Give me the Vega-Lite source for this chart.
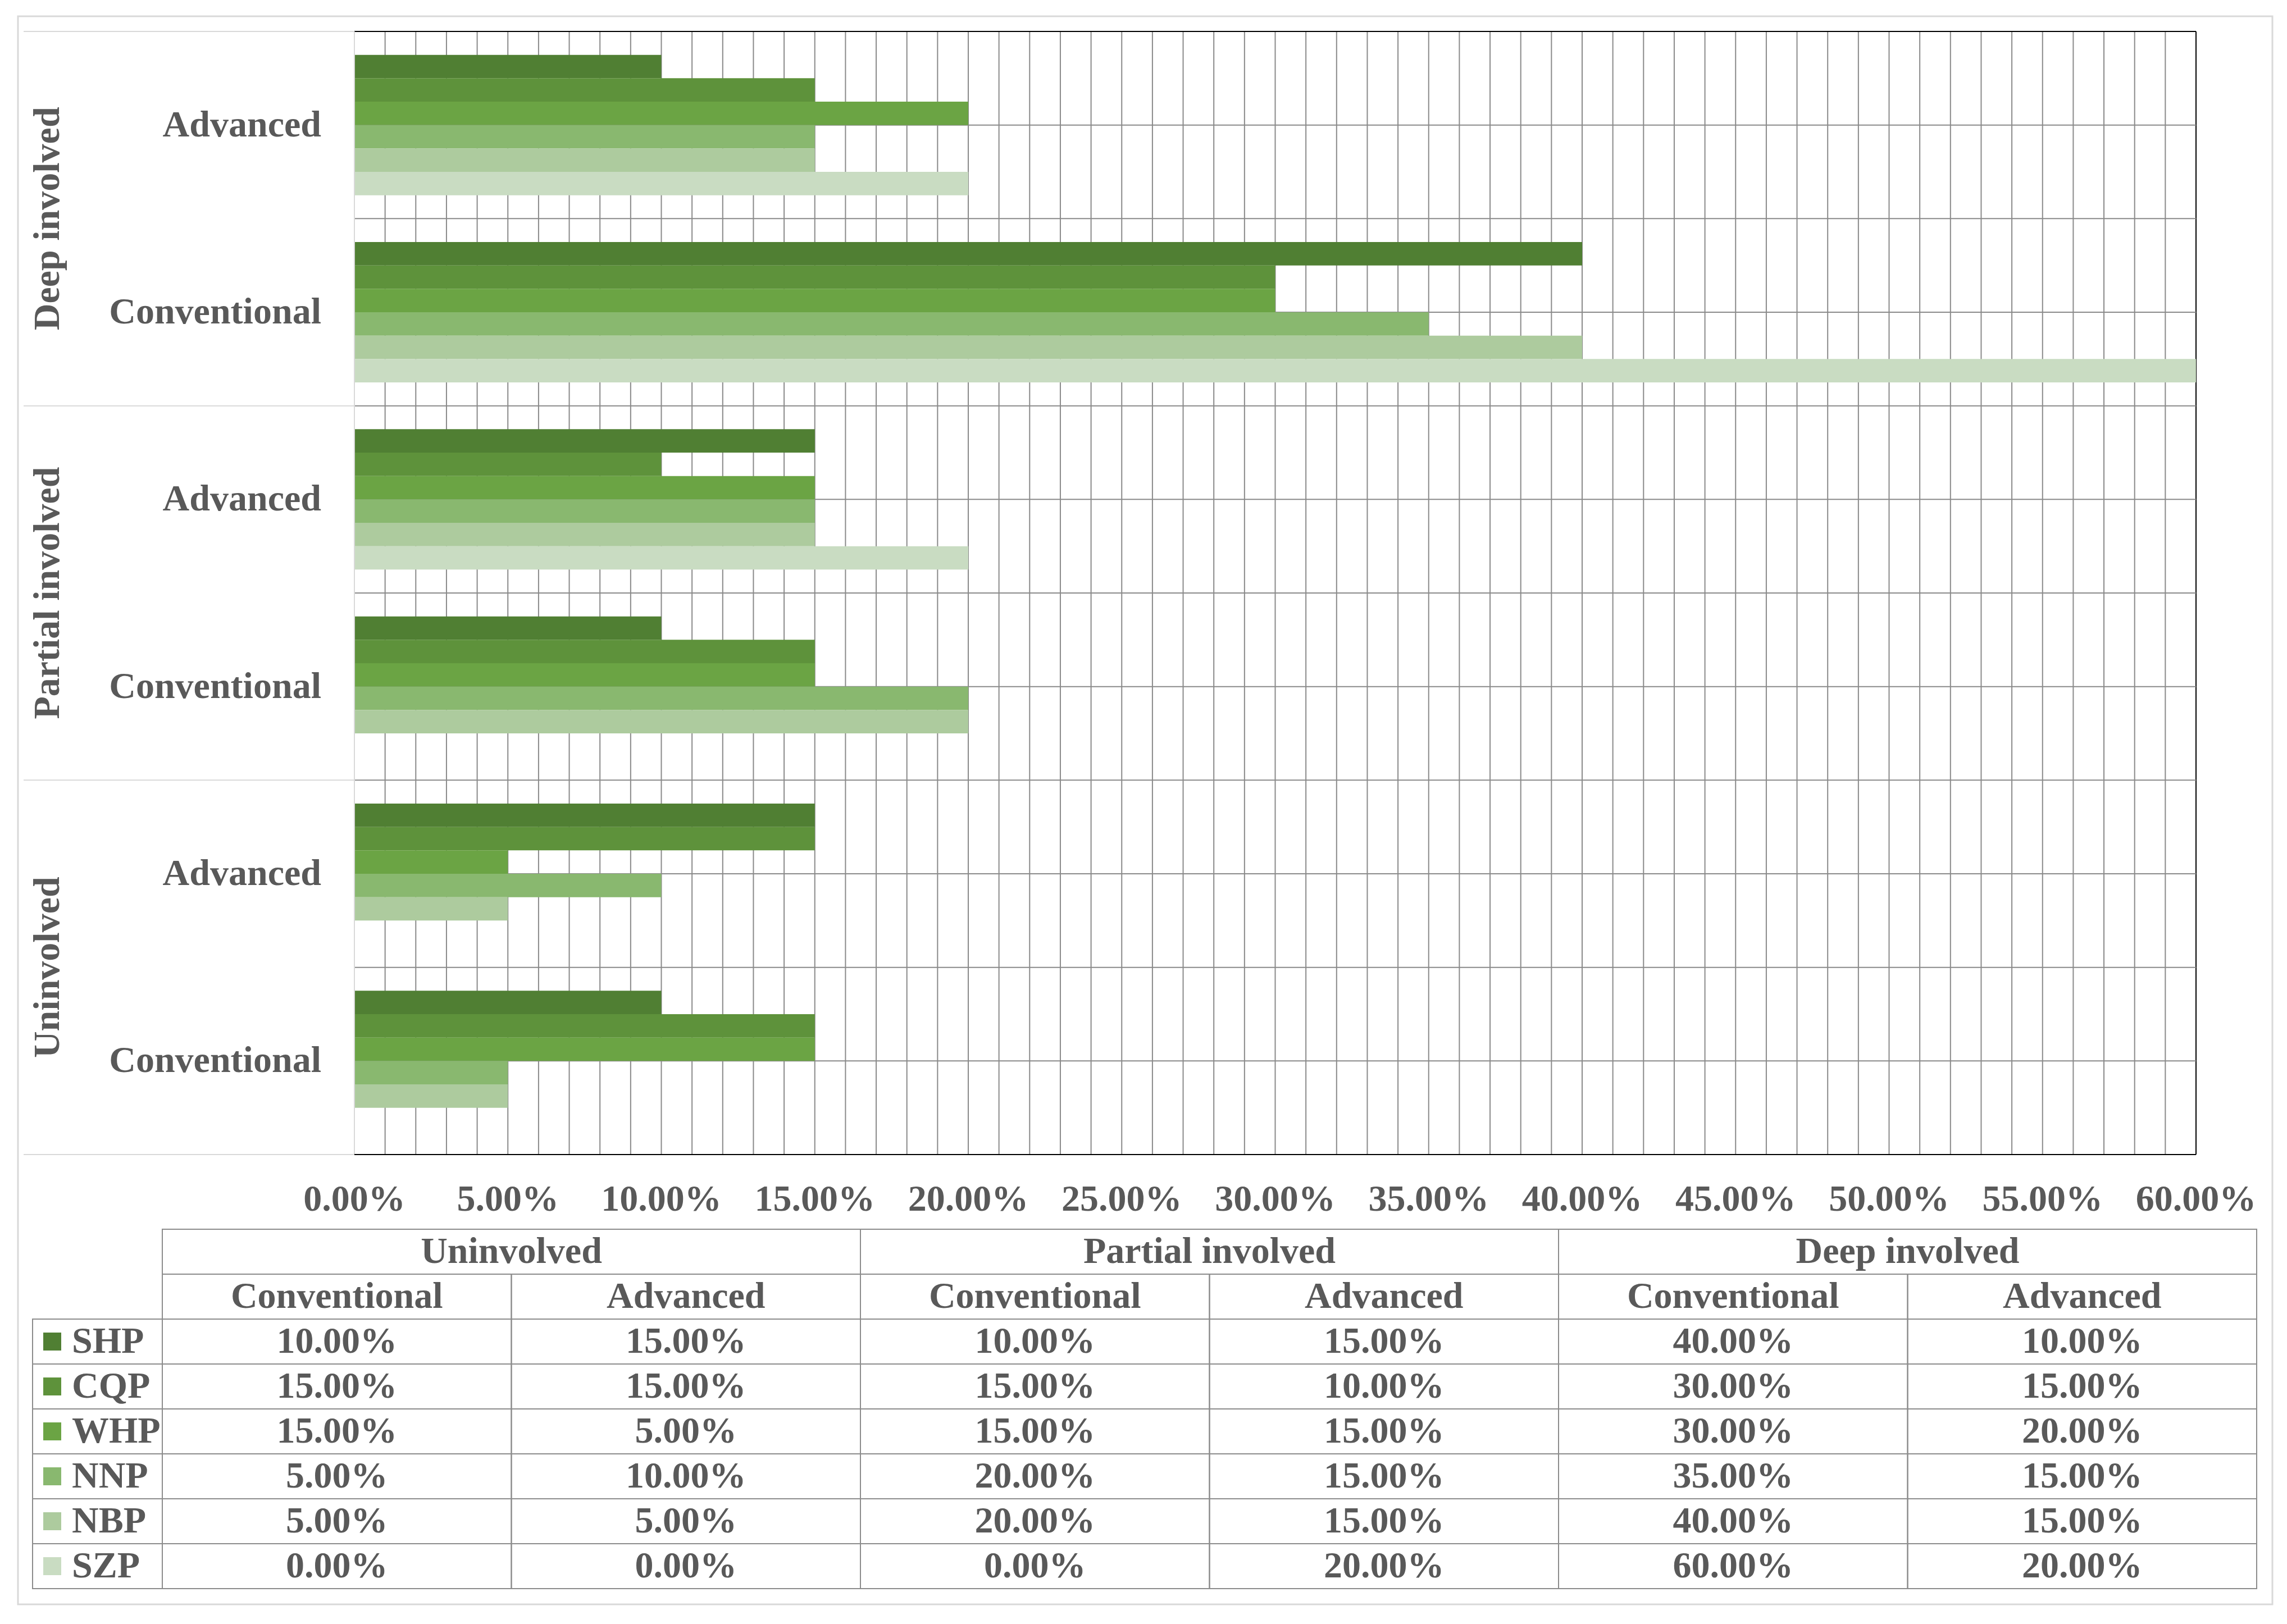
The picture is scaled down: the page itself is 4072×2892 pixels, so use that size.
{
  "$schema": "https://vega.github.io/schema/vega-lite/v6.json",
  "autosize": {"type": "fit", "contains": "padding"},
  "width": 4072,
  "height": 2892,
  "padding": 0,
  "background": "#ffffff",
  "config": {"font": "Liberation Serif", "view": {"stroke": null}},
  "datasets": {
    "bars": [
      {"group": "Uninvolved", "level": "Conventional", "cat": "Uninvolved|Conventional", "key": "Uninvolved|Conventional|SHP", "series": "SHP", "value": 0.10},
      {"group": "Uninvolved", "level": "Conventional", "cat": "Uninvolved|Conventional", "key": "Uninvolved|Conventional|CQP", "series": "CQP", "value": 0.15},
      {"group": "Uninvolved", "level": "Conventional", "cat": "Uninvolved|Conventional", "key": "Uninvolved|Conventional|WHP", "series": "WHP", "value": 0.15},
      {"group": "Uninvolved", "level": "Conventional", "cat": "Uninvolved|Conventional", "key": "Uninvolved|Conventional|NNP", "series": "NNP", "value": 0.05},
      {"group": "Uninvolved", "level": "Conventional", "cat": "Uninvolved|Conventional", "key": "Uninvolved|Conventional|NBP", "series": "NBP", "value": 0.05},
      {"group": "Uninvolved", "level": "Conventional", "cat": "Uninvolved|Conventional", "key": "Uninvolved|Conventional|SZP", "series": "SZP", "value": 0.00},
      {"group": "Uninvolved", "level": "Advanced", "cat": "Uninvolved|Advanced", "key": "Uninvolved|Advanced|SHP", "series": "SHP", "value": 0.15},
      {"group": "Uninvolved", "level": "Advanced", "cat": "Uninvolved|Advanced", "key": "Uninvolved|Advanced|CQP", "series": "CQP", "value": 0.15},
      {"group": "Uninvolved", "level": "Advanced", "cat": "Uninvolved|Advanced", "key": "Uninvolved|Advanced|WHP", "series": "WHP", "value": 0.05},
      {"group": "Uninvolved", "level": "Advanced", "cat": "Uninvolved|Advanced", "key": "Uninvolved|Advanced|NNP", "series": "NNP", "value": 0.10},
      {"group": "Uninvolved", "level": "Advanced", "cat": "Uninvolved|Advanced", "key": "Uninvolved|Advanced|NBP", "series": "NBP", "value": 0.05},
      {"group": "Uninvolved", "level": "Advanced", "cat": "Uninvolved|Advanced", "key": "Uninvolved|Advanced|SZP", "series": "SZP", "value": 0.00},
      {"group": "Partial involved", "level": "Conventional", "cat": "Partial involved|Conventional", "key": "Partial involved|Conventional|SHP", "series": "SHP", "value": 0.10},
      {"group": "Partial involved", "level": "Conventional", "cat": "Partial involved|Conventional", "key": "Partial involved|Conventional|CQP", "series": "CQP", "value": 0.15},
      {"group": "Partial involved", "level": "Conventional", "cat": "Partial involved|Conventional", "key": "Partial involved|Conventional|WHP", "series": "WHP", "value": 0.15},
      {"group": "Partial involved", "level": "Conventional", "cat": "Partial involved|Conventional", "key": "Partial involved|Conventional|NNP", "series": "NNP", "value": 0.20},
      {"group": "Partial involved", "level": "Conventional", "cat": "Partial involved|Conventional", "key": "Partial involved|Conventional|NBP", "series": "NBP", "value": 0.20},
      {"group": "Partial involved", "level": "Conventional", "cat": "Partial involved|Conventional", "key": "Partial involved|Conventional|SZP", "series": "SZP", "value": 0.00},
      {"group": "Partial involved", "level": "Advanced", "cat": "Partial involved|Advanced", "key": "Partial involved|Advanced|SHP", "series": "SHP", "value": 0.15},
      {"group": "Partial involved", "level": "Advanced", "cat": "Partial involved|Advanced", "key": "Partial involved|Advanced|CQP", "series": "CQP", "value": 0.10},
      {"group": "Partial involved", "level": "Advanced", "cat": "Partial involved|Advanced", "key": "Partial involved|Advanced|WHP", "series": "WHP", "value": 0.15},
      {"group": "Partial involved", "level": "Advanced", "cat": "Partial involved|Advanced", "key": "Partial involved|Advanced|NNP", "series": "NNP", "value": 0.15},
      {"group": "Partial involved", "level": "Advanced", "cat": "Partial involved|Advanced", "key": "Partial involved|Advanced|NBP", "series": "NBP", "value": 0.15},
      {"group": "Partial involved", "level": "Advanced", "cat": "Partial involved|Advanced", "key": "Partial involved|Advanced|SZP", "series": "SZP", "value": 0.20},
      {"group": "Deep involved", "level": "Conventional", "cat": "Deep involved|Conventional", "key": "Deep involved|Conventional|SHP", "series": "SHP", "value": 0.40},
      {"group": "Deep involved", "level": "Conventional", "cat": "Deep involved|Conventional", "key": "Deep involved|Conventional|CQP", "series": "CQP", "value": 0.30},
      {"group": "Deep involved", "level": "Conventional", "cat": "Deep involved|Conventional", "key": "Deep involved|Conventional|WHP", "series": "WHP", "value": 0.30},
      {"group": "Deep involved", "level": "Conventional", "cat": "Deep involved|Conventional", "key": "Deep involved|Conventional|NNP", "series": "NNP", "value": 0.35},
      {"group": "Deep involved", "level": "Conventional", "cat": "Deep involved|Conventional", "key": "Deep involved|Conventional|NBP", "series": "NBP", "value": 0.40},
      {"group": "Deep involved", "level": "Conventional", "cat": "Deep involved|Conventional", "key": "Deep involved|Conventional|SZP", "series": "SZP", "value": 0.60},
      {"group": "Deep involved", "level": "Advanced", "cat": "Deep involved|Advanced", "key": "Deep involved|Advanced|SHP", "series": "SHP", "value": 0.10},
      {"group": "Deep involved", "level": "Advanced", "cat": "Deep involved|Advanced", "key": "Deep involved|Advanced|CQP", "series": "CQP", "value": 0.15},
      {"group": "Deep involved", "level": "Advanced", "cat": "Deep involved|Advanced", "key": "Deep involved|Advanced|WHP", "series": "WHP", "value": 0.20},
      {"group": "Deep involved", "level": "Advanced", "cat": "Deep involved|Advanced", "key": "Deep involved|Advanced|NNP", "series": "NNP", "value": 0.15},
      {"group": "Deep involved", "level": "Advanced", "cat": "Deep involved|Advanced", "key": "Deep involved|Advanced|NBP", "series": "NBP", "value": 0.15},
      {"group": "Deep involved", "level": "Advanced", "cat": "Deep involved|Advanced", "key": "Deep involved|Advanced|SZP", "series": "SZP", "value": 0.20}
    ],
    "cats": [
      {"cat": "Uninvolved|Conventional", "group": "Uninvolved", "level": "Conventional"},
      {"cat": "Uninvolved|Advanced", "group": "Uninvolved", "level": "Advanced"},
      {"cat": "Partial involved|Conventional", "group": "Partial involved", "level": "Conventional"},
      {"cat": "Partial involved|Advanced", "group": "Partial involved", "level": "Advanced"},
      {"cat": "Deep involved|Conventional", "group": "Deep involved", "level": "Conventional"},
      {"cat": "Deep involved|Advanced", "group": "Deep involved", "level": "Advanced"}
    ],
    "grid": [
      {"g": 0}, {"g": 0.01}, {"g": 0.02}, {"g": 0.03}, {"g": 0.04}, {"g": 0.05}, {"g": 0.06}, {"g": 0.07}, {"g": 0.08}, {"g": 0.09},
      {"g": 0.1}, {"g": 0.11}, {"g": 0.12}, {"g": 0.13}, {"g": 0.14}, {"g": 0.15}, {"g": 0.16}, {"g": 0.17}, {"g": 0.18}, {"g": 0.19},
      {"g": 0.2}, {"g": 0.21}, {"g": 0.22}, {"g": 0.23}, {"g": 0.24}, {"g": 0.25}, {"g": 0.26}, {"g": 0.27}, {"g": 0.28}, {"g": 0.29},
      {"g": 0.3}, {"g": 0.31}, {"g": 0.32}, {"g": 0.33}, {"g": 0.34}, {"g": 0.35}, {"g": 0.36}, {"g": 0.37}, {"g": 0.38}, {"g": 0.39},
      {"g": 0.4}, {"g": 0.41}, {"g": 0.42}, {"g": 0.43}, {"g": 0.44}, {"g": 0.45}, {"g": 0.46}, {"g": 0.47}, {"g": 0.48}, {"g": 0.49},
      {"g": 0.5}, {"g": 0.51}, {"g": 0.52}, {"g": 0.53}, {"g": 0.54}, {"g": 0.55}, {"g": 0.56}, {"g": 0.57}, {"g": 0.58}, {"g": 0.59},
      {"g": 0.6}
    ]
  },
  "resolve": {"scale": {"x": "independent", "y": "independent"}},
  "layer": [
    {
      "data": {"values": [{"f": "f"}]},
      "mark": {"type": "rect", "filled": false, "stroke": "#d9d9d9", "strokeWidth": 3},
      "encoding": {
        "x": {"field": "f", "type": "nominal", "scale": {"domain": ["f"], "range": [32, 4046], "paddingInner": 0, "paddingOuter": 0}, "axis": null},
        "y": {"field": "f", "type": "nominal", "scale": {"domain": ["f"], "range": [29, 2857], "paddingInner": 0, "paddingOuter": 0}, "axis": null}
      }
    },
    {
      "data": {"name": "grid"},
      "mark": {"type": "rule", "strokeWidth": 2},
      "encoding": {
        "x": {"field": "g", "type": "quantitative", "scale": {"domain": [0, 0.6], "range": [631, 3910], "nice": false, "zero": false}, "axis": null},
        "y": {"datum": 0, "type": "quantitative", "scale": {"domain": [0, 1], "range": [56, 2056], "nice": false, "zero": false}, "axis": null},
        "y2": {"datum": 1},
        "color": {"condition": {"test": "datum.g >= 0.6", "value": "#000000"}, "value": "#8a8a8a"}
      }
    },
    {
      "data": {"name": "cats"},
      "mark": {"type": "rule", "strokeWidth": 2},
      "encoding": {
        "y": {"field": "cat", "type": "nominal", "bandPosition": 0, "scale": {"domain": ["Deep involved|Advanced", "Deep involved|Conventional", "Partial involved|Advanced", "Partial involved|Conventional", "Uninvolved|Advanced", "Uninvolved|Conventional"], "range": [56, 2056], "paddingInner": 0, "paddingOuter": 0}, "axis": null},
        "x": {"datum": 0, "type": "quantitative", "scale": {"domain": [0, 0.6], "range": [631, 3910], "nice": false, "zero": false}, "axis": null},
        "x2": {"datum": 0.6},
        "color": {"condition": {"test": "datum.cat === 'Deep involved|Advanced'", "value": "#000000"}, "value": "#8a8a8a"}
      }
    },
    {
      "data": {"name": "cats"},
      "mark": {"type": "rule", "strokeWidth": 2, "color": "#8a8a8a"},
      "encoding": {
        "y": {"field": "cat", "type": "nominal", "scale": {"domain": ["Deep involved|Advanced", "Deep involved|Conventional", "Partial involved|Advanced", "Partial involved|Conventional", "Uninvolved|Advanced", "Uninvolved|Conventional"], "range": [56, 2056], "paddingInner": 0, "paddingOuter": 0}, "axis": null},
        "x": {"datum": 0, "type": "quantitative", "scale": {"domain": [0, 0.6], "range": [631, 3910], "nice": false, "zero": false}, "axis": null},
        "x2": {"datum": 0.6}
      }
    },
    {
      "data": {"name": "bars"},
      "mark": {"type": "bar"},
      "encoding": {
        "y": {
          "field": "key", "type": "nominal",
          "scale": {"domain": [
            "Deep involved|Advanced|t", "Deep involved|Advanced|SHP", "Deep involved|Advanced|CQP", "Deep involved|Advanced|WHP", "Deep involved|Advanced|NNP", "Deep involved|Advanced|NBP", "Deep involved|Advanced|SZP", "Deep involved|Advanced|b",
            "Deep involved|Conventional|t", "Deep involved|Conventional|SHP", "Deep involved|Conventional|CQP", "Deep involved|Conventional|WHP", "Deep involved|Conventional|NNP", "Deep involved|Conventional|NBP", "Deep involved|Conventional|SZP", "Deep involved|Conventional|b",
            "Partial involved|Advanced|t", "Partial involved|Advanced|SHP", "Partial involved|Advanced|CQP", "Partial involved|Advanced|WHP", "Partial involved|Advanced|NNP", "Partial involved|Advanced|NBP", "Partial involved|Advanced|SZP", "Partial involved|Advanced|b",
            "Partial involved|Conventional|t", "Partial involved|Conventional|SHP", "Partial involved|Conventional|CQP", "Partial involved|Conventional|WHP", "Partial involved|Conventional|NNP", "Partial involved|Conventional|NBP", "Partial involved|Conventional|SZP", "Partial involved|Conventional|b",
            "Uninvolved|Advanced|t", "Uninvolved|Advanced|SHP", "Uninvolved|Advanced|CQP", "Uninvolved|Advanced|WHP", "Uninvolved|Advanced|NNP", "Uninvolved|Advanced|NBP", "Uninvolved|Advanced|SZP", "Uninvolved|Advanced|b",
            "Uninvolved|Conventional|t", "Uninvolved|Conventional|SHP", "Uninvolved|Conventional|CQP", "Uninvolved|Conventional|WHP", "Uninvolved|Conventional|NNP", "Uninvolved|Conventional|NBP", "Uninvolved|Conventional|SZP", "Uninvolved|Conventional|b"
          ], "range": [56, 2056], "paddingInner": 0, "paddingOuter": 0},
          "axis": null
        },
        "x": {"field": "value", "type": "quantitative", "scale": {"domain": [0, 0.6], "range": [631, 3910], "nice": false, "zero": false}, "axis": null},
        "color": {
          "field": "series", "type": "nominal",
          "scale": {"domain": ["SHP", "CQP", "WHP", "NNP", "NBP", "SZP"], "range": ["#507f33", "#5e923b", "#6ba444", "#89b86f", "#adcb9e", "#c9dcc2"]},
          "legend": null
        }
      }
    },
    {
      "data": {"values": [{"f": "f"}]},
      "mark": {"type": "rule", "strokeWidth": 2, "color": "#d9d9d9"},
      "encoding": {
        "x": {"datum": 0, "type": "quantitative", "scale": {"domain": [0, 0.6], "range": [631, 3910], "nice": false, "zero": false}, "axis": null},
        "y": {"datum": 0, "type": "quantitative", "scale": {"domain": [0, 1], "range": [56, 2056], "nice": false, "zero": false}, "axis": null},
        "y2": {"datum": 1}
      }
    },
    {
      "data": {"values": [{"f": "f"}]},
      "mark": {"type": "rule", "strokeWidth": 2, "color": "#000000"},
      "encoding": {
        "x": {"datum": 0, "type": "quantitative", "scale": {"domain": [0, 0.6], "range": [631, 3910], "nice": false, "zero": false}, "axis": null},
        "x2": {"datum": 0.6},
        "y": {"datum": 1, "type": "quantitative", "scale": {"domain": [0, 1], "range": [56, 2056], "nice": false, "zero": false}, "axis": null}
      }
    },
    {
      "data": {"values": [{"f": "f"}]},
      "mark": {"type": "rule", "strokeWidth": 2, "color": "#d9d9d9"},
      "encoding": {
        "x": {"datum": -0.10778, "type": "quantitative", "scale": {"domain": [0, 0.6], "range": [631, 3910], "nice": false, "zero": false}, "axis": null},
        "x2": {"datum": 0},
        "y": {"datum": 1, "type": "quantitative", "scale": {"domain": [0, 1], "range": [56, 2056], "nice": false, "zero": false}, "axis": null}
      }
    },
    {
      "data": {"name": "cats"},
      "transform": [{"aggregate": [{"op": "count", "as": "n"}], "groupby": ["group"]}],
      "mark": {"type": "rule", "strokeWidth": 2, "color": "#d9d9d9"},
      "encoding": {
        "y": {"field": "group", "type": "nominal", "bandPosition": 0, "scale": {"domain": ["Deep involved", "Partial involved", "Uninvolved"], "range": [56, 2056], "paddingInner": 0, "paddingOuter": 0}, "axis": null},
        "x": {"datum": -0.10778, "type": "quantitative", "scale": {"domain": [0, 0.6], "range": [631, 3910], "nice": false, "zero": false}, "axis": null},
        "x2": {"datum": 0}
      }
    },
    {
      "data": {"name": "grid"},
      "transform": [{"filter": "round(datum.g * 100) % 5 === 0"}],
      "mark": {"type": "text", "font": "Liberation Serif", "fontSize": 66, "fontWeight": "bold", "color": "#595959", "align": "center", "baseline": "alphabetic", "dy": 100},
      "encoding": {
        "x": {"field": "g", "type": "quantitative", "scale": {"domain": [0, 0.6], "range": [631, 3910], "nice": false, "zero": false}, "axis": null},
        "y": {"datum": 1, "type": "quantitative", "scale": {"domain": [0, 1], "range": [56, 2056], "nice": false, "zero": false}, "axis": null},
        "text": {"field": "g", "type": "quantitative", "format": ".2%"}
      }
    },
    {
      "data": {"name": "cats"},
      "mark": {"type": "text", "font": "Liberation Serif", "fontSize": 66, "fontWeight": "bold", "color": "#595959", "align": "right", "baseline": "middle"},
      "encoding": {
        "y": {"field": "cat", "type": "nominal", "scale": {"domain": ["Deep involved|Advanced", "Deep involved|Conventional", "Partial involved|Advanced", "Partial involved|Conventional", "Uninvolved|Advanced", "Uninvolved|Conventional"], "range": [56, 2056], "paddingInner": 0, "paddingOuter": 0}, "axis": null},
        "x": {"datum": -0.0108, "type": "quantitative", "scale": {"domain": [0, 0.6], "range": [631, 3910], "nice": false, "zero": false}, "axis": null},
        "text": {"field": "level", "type": "nominal"}
      }
    },
    {
      "data": {"name": "cats"},
      "transform": [{"aggregate": [{"op": "count", "as": "n"}], "groupby": ["group"]}],
      "mark": {"type": "text", "font": "Liberation Serif", "fontSize": 66, "fontWeight": "bold", "color": "#595959", "align": "center", "baseline": "alphabetic", "angle": 270},
      "encoding": {
        "y": {"field": "group", "type": "nominal", "scale": {"domain": ["Deep involved", "Partial involved", "Uninvolved"], "range": [56, 2056], "paddingInner": 0, "paddingOuter": 0}, "axis": null},
        "x": {"datum": -0.09625, "type": "quantitative", "scale": {"domain": [0, 0.6], "range": [631, 3910], "nice": false, "zero": false}, "axis": null},
        "text": {"field": "group", "type": "nominal"}
      }
    },
    {
      "data": {"name": "bars"},
      "mark": {"type": "rect", "filled": false, "stroke": "#8c8c8c", "strokeWidth": 2},
      "encoding": {
        "x": {"field": "cat", "type": "nominal", "scale": {"domain": ["Uninvolved|Conventional", "Uninvolved|Advanced", "Partial involved|Conventional", "Partial involved|Advanced", "Deep involved|Conventional", "Deep involved|Advanced"], "range": [289, 4018], "paddingInner": 0, "paddingOuter": 0}, "axis": null},
        "y": {"field": "series", "type": "nominal", "scale": {"domain": ["grp", "lvl", "SHP", "CQP", "WHP", "NNP", "NBP", "SZP"], "range": [2189, 2829], "paddingInner": 0, "paddingOuter": 0}, "axis": null}
      }
    },
    {
      "data": {"name": "bars"},
      "mark": {"type": "text", "font": "Liberation Serif", "fontSize": 66, "fontWeight": "bold", "color": "#595959", "baseline": "middle", "align": "center"},
      "encoding": {
        "x": {"field": "cat", "type": "nominal", "scale": {"domain": ["Uninvolved|Conventional", "Uninvolved|Advanced", "Partial involved|Conventional", "Partial involved|Advanced", "Deep involved|Conventional", "Deep involved|Advanced"], "range": [289, 4018], "paddingInner": 0, "paddingOuter": 0}, "axis": null},
        "y": {"field": "series", "type": "nominal", "scale": {"domain": ["grp", "lvl", "SHP", "CQP", "WHP", "NNP", "NBP", "SZP"], "range": [2189, 2829], "paddingInner": 0, "paddingOuter": 0}, "axis": null},
        "text": {"field": "value", "type": "quantitative", "format": ".2%"}
      }
    },
    {
      "data": {"name": "cats"},
      "mark": {"type": "rect", "filled": false, "stroke": "#8c8c8c", "strokeWidth": 2},
      "encoding": {
        "x": {"field": "cat", "type": "nominal", "scale": {"domain": ["Uninvolved|Conventional", "Uninvolved|Advanced", "Partial involved|Conventional", "Partial involved|Advanced", "Deep involved|Conventional", "Deep involved|Advanced"], "range": [289, 4018], "paddingInner": 0, "paddingOuter": 0}, "axis": null},
        "y": {"datum": "lvl", "type": "nominal", "scale": {"domain": ["grp", "lvl", "SHP", "CQP", "WHP", "NNP", "NBP", "SZP"], "range": [2189, 2829], "paddingInner": 0, "paddingOuter": 0}, "axis": null}
      }
    },
    {
      "data": {"name": "cats"},
      "mark": {"type": "text", "font": "Liberation Serif", "fontSize": 66, "fontWeight": "bold", "color": "#595959", "baseline": "middle", "align": "center"},
      "encoding": {
        "x": {"field": "cat", "type": "nominal", "scale": {"domain": ["Uninvolved|Conventional", "Uninvolved|Advanced", "Partial involved|Conventional", "Partial involved|Advanced", "Deep involved|Conventional", "Deep involved|Advanced"], "range": [289, 4018], "paddingInner": 0, "paddingOuter": 0}, "axis": null},
        "y": {"datum": "lvl", "type": "nominal", "scale": {"domain": ["grp", "lvl", "SHP", "CQP", "WHP", "NNP", "NBP", "SZP"], "range": [2189, 2829], "paddingInner": 0, "paddingOuter": 0}, "axis": null},
        "text": {"field": "level", "type": "nominal"}
      }
    },
    {
      "data": {"name": "cats"},
      "transform": [{"aggregate": [{"op": "count", "as": "n"}], "groupby": ["group"]}],
      "mark": {"type": "rect", "filled": false, "stroke": "#8c8c8c", "strokeWidth": 2},
      "encoding": {
        "x": {"field": "group", "type": "nominal", "scale": {"domain": ["Uninvolved", "Partial involved", "Deep involved"], "range": [289, 4018], "paddingInner": 0, "paddingOuter": 0}, "axis": null},
        "y": {"datum": "grp", "type": "nominal", "scale": {"domain": ["grp", "lvl", "SHP", "CQP", "WHP", "NNP", "NBP", "SZP"], "range": [2189, 2829], "paddingInner": 0, "paddingOuter": 0}, "axis": null}
      }
    },
    {
      "data": {"name": "cats"},
      "transform": [{"aggregate": [{"op": "count", "as": "n"}], "groupby": ["group"]}],
      "mark": {"type": "text", "font": "Liberation Serif", "fontSize": 66, "fontWeight": "bold", "color": "#595959", "baseline": "middle", "align": "center"},
      "encoding": {
        "x": {"field": "group", "type": "nominal", "scale": {"domain": ["Uninvolved", "Partial involved", "Deep involved"], "range": [289, 4018], "paddingInner": 0, "paddingOuter": 0}, "axis": null},
        "y": {"datum": "grp", "type": "nominal", "scale": {"domain": ["grp", "lvl", "SHP", "CQP", "WHP", "NNP", "NBP", "SZP"], "range": [2189, 2829], "paddingInner": 0, "paddingOuter": 0}, "axis": null},
        "text": {"field": "group", "type": "nominal"}
      }
    },
    {
      "data": {"name": "bars"},
      "transform": [{"aggregate": [{"op": "count", "as": "n"}], "groupby": ["series"]}],
      "mark": {"type": "rect", "filled": false, "stroke": "#8c8c8c", "strokeWidth": 2},
      "encoding": {
        "x": {"datum": "k", "type": "nominal", "scale": {"domain": ["k"], "range": [58, 289], "paddingInner": 0, "paddingOuter": 0}, "axis": null},
        "y": {"field": "series", "type": "nominal", "scale": {"domain": ["grp", "lvl", "SHP", "CQP", "WHP", "NNP", "NBP", "SZP"], "range": [2189, 2829], "paddingInner": 0, "paddingOuter": 0}, "axis": null}
      }
    },
    {
      "data": {"name": "bars"},
      "transform": [{"aggregate": [{"op": "count", "as": "n"}], "groupby": ["series"]}],
      "mark": {"type": "square", "size": 1024, "filled": true, "opacity": 1},
      "encoding": {
        "x": {"datum": "k", "type": "nominal", "scale": {"domain": ["k"], "range": [77, 109], "paddingInner": 0, "paddingOuter": 0}, "axis": null},
        "y": {"field": "series", "type": "nominal", "scale": {"domain": ["grp", "lvl", "SHP", "CQP", "WHP", "NNP", "NBP", "SZP"], "range": [2189, 2829], "paddingInner": 0, "paddingOuter": 0}, "axis": null},
        "color": {
          "field": "series", "type": "nominal",
          "scale": {"domain": ["SHP", "CQP", "WHP", "NNP", "NBP", "SZP"], "range": ["#507f33", "#5e923b", "#6ba444", "#89b86f", "#adcb9e", "#c9dcc2"]},
          "legend": null
        }
      }
    },
    {
      "data": {"name": "bars"},
      "transform": [{"aggregate": [{"op": "count", "as": "n"}], "groupby": ["series"]}],
      "mark": {"type": "text", "font": "Liberation Serif", "fontSize": 66, "fontWeight": "bold", "color": "#595959", "baseline": "middle", "align": "left"},
      "encoding": {
        "x": {"datum": "k", "type": "nominal", "scale": {"domain": ["k"], "range": [96, 160], "paddingInner": 0, "paddingOuter": 0}, "axis": null},
        "y": {"field": "series", "type": "nominal", "scale": {"domain": ["grp", "lvl", "SHP", "CQP", "WHP", "NNP", "NBP", "SZP"], "range": [2189, 2829], "paddingInner": 0, "paddingOuter": 0}, "axis": null},
        "text": {"field": "series", "type": "nominal"}
      }
    }
  ]
}
